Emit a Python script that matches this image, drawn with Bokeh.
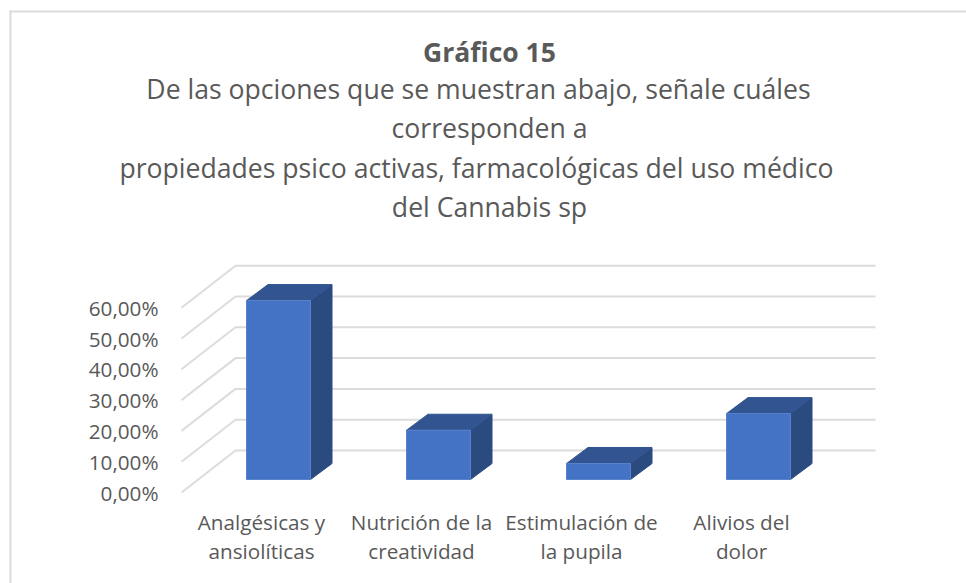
from bokeh.plotting import figure
from bokeh.embed import file_html
from bokeh.resources import INLINE
from bokeh.models import Range1d, FixedTicker, Label, BoxAnnotation

categories = ["Analgésicas y\nansiolíticas", "Nutrición de la\ncreatividad",
              "Estimulación de\nla pupila", "Alivios del\ndolor"]
values = [58.1, 16.0, 5.2, 21.4]
y_ticks = [0, 10, 20, 30, 40, 50, 60]
y_tick_labels = ["0,00%", "10,00%", "20,00%", "30,00%", "40,00%", "50,00%", "60,00%"]
title_bold = "Gráfico 15"
title_lines = ["De las opciones que se muestran abajo, señale cuáles", "corresponden a",
               "propiedades psico activas, farmacológicas del uso médico", "del Cannabis sp"]

FONT = "Open Sans"
TXT = "#595959"
GRID = "#dcdcdc"
W, H = 966, 583
ORIGIN_X = 181
ZERO_Y = 492
PX_PER_CAT = 160.0
PX_PER_VAL = 3.08

p = figure(width=W, height=H, output_backend="svg", toolbar_location=None,
           x_range=Range1d(-ORIGIN_X / PX_PER_CAT, (W - ORIGIN_X) / PX_PER_CAT),
           y_range=Range1d((ZERO_Y - H) / PX_PER_VAL, ZERO_Y / PX_PER_VAL),
           min_border_left=0, min_border_right=0, min_border_top=0, min_border_bottom=0)
p.outline_line_color = None
p.grid.visible = False
p.background_fill_color = "white"

# floor depth of the 3D chart
DX, DY = 54 / PX_PER_CAT, 42 / PX_PER_VAL
n = len(categories)
xs_g, ys_g = [], []
for t in y_ticks:
    xs_g.append([0, DX, DX + n])
    ys_g.append([t, t + DY, t + DY])
p.multi_line(xs_g, ys_g, line_color=GRID, line_width=2)

# bars: front, top and side faces
BX0, BW = 65 / PX_PER_CAT, 64 / PX_PER_CAT
BDX, BDY = 21.5 / PX_PER_CAT, 16 / PX_PER_VAL
FLOOR = 13 / PX_PER_VAL
front, top, side = ([], []), ([], []), ([], [])
for i, v in enumerate(values):
    l, r = i + BX0, i + BX0 + BW
    b, t = FLOOR, FLOOR + v
    front[0].append([l, r, r, l]); front[1].append([b, b, t, t])
    top[0].append([l, r, r + BDX, l + BDX]); top[1].append([t, t, t + BDY, t + BDY])
    side[0].append([r, r + BDX, r + BDX, r]); side[1].append([b, b + BDY, t + BDY, t])
p.patches(side[0], side[1], fill_color="#2A4A80", line_color="#2A4A80", line_width=1)
p.patches(top[0], top[1], fill_color="#325591", line_color="#325591", line_width=1)
p.patches(front[0], front[1], fill_color="#4472C4", line_color="#5A83CC", line_width=1)

# axes, fixed inside the frame
p.yaxis.fixed_location = 0
p.yaxis.ticker = FixedTicker(ticks=y_ticks)
p.yaxis.major_label_overrides = dict(zip(y_ticks, y_tick_labels))
p.yaxis.axis_line_color = None
p.yaxis.major_tick_line_color = None
p.yaxis.minor_tick_line_color = None
p.yaxis.major_label_text_font = FONT
p.yaxis.major_label_text_font_size = "20.7px"
p.yaxis.major_label_text_color = TXT
p.yaxis.major_label_standoff = 17

x_ticks = [0.5, 1.5, 2.5, 3.5]
p.xaxis.fixed_location = (ZERO_Y - 500) / PX_PER_VAL
p.xaxis.ticker = FixedTicker(ticks=x_ticks)
p.xaxis.major_label_overrides = dict(zip(x_ticks, categories))
p.xaxis.axis_line_color = None
p.xaxis.major_tick_line_color = None
p.xaxis.minor_tick_line_color = None
p.xaxis.major_label_text_font = FONT
p.xaxis.major_label_text_font_size = "20.7px"
p.xaxis.major_label_text_line_height = 1.06
p.xaxis.major_label_text_color = TXT
p.xaxis.major_label_standoff = 1

# title
p.add_layout(Label(x=489, y=H - 51, x_units="screen", y_units="screen", text=title_bold,
                   text_font=FONT, text_font_style="bold", text_font_size="26.5px",
                   text_color=TXT, text_align="center", text_baseline="middle"))
for line, cx, cy in zip(title_lines, [478, 489, 476, 489], [88, 127, 167, 206]):
    p.add_layout(Label(x=cx, y=H - cy, x_units="screen", y_units="screen", text=line,
                       text_font=FONT, text_font_size="26.6px",
                       text_color=TXT, text_align="center", text_baseline="middle"))

# chart border (top and left)
p.add_layout(BoxAnnotation(left=9, right=W, top=H - 10, bottom=H - 12,
                           left_units="screen", right_units="screen",
                           top_units="screen", bottom_units="screen",
                           fill_color=GRID, fill_alpha=1, line_color=None))
p.add_layout(BoxAnnotation(left=9, right=11, top=H - 10, bottom=0,
                           left_units="screen", right_units="screen",
                           top_units="screen", bottom_units="screen",
                           fill_color=GRID, fill_alpha=1, line_color=None))

open("out.html", "w").write(file_html(p, INLINE))
